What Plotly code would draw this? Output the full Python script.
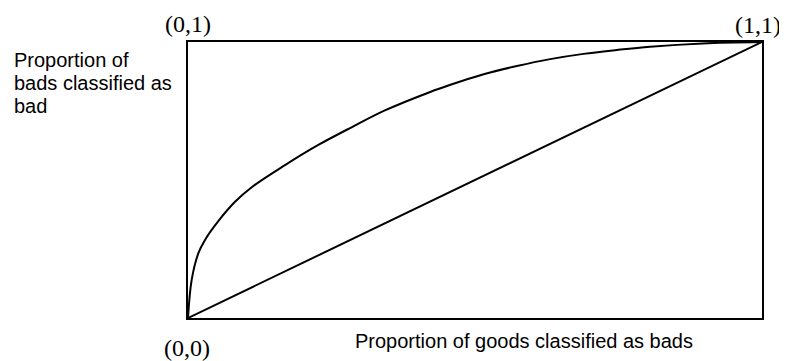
import plotly.graph_objects as go

# ROC-style curve (fraction of goods vs fraction of bads)
curve_x = [0.0, 0.0064, 0.0179, 0.0296, 0.0528, 0.0819, 0.111, 0.169, 0.227,
           0.285, 0.343, 0.422, 0.456, 0.515, 0.573, 0.631, 0.689, 0.747,
           0.805, 0.897, 1.0]
curve_y = [0.0, 0.138, 0.234, 0.283, 0.351, 0.421, 0.474, 0.554, 0.627,
           0.691, 0.752, 0.819, 0.844, 0.883, 0.913, 0.938, 0.957, 0.971,
           0.983, 0.995, 1.0]

# random-guess diagonal
diag_x = [0.0, 1.0]
diag_y = [0.0, 1.0]

corner_labels = ["(0,1)", "(1,1)", "(0,0)"]
y_label_lines = ["Proportion of", "bads classified as", "bad"]
x_label = "Proportion of goods classified as bads"

SANS = "Liberation Sans, Arial, sans-serif"
SERIF = "Liberation Serif, Times New Roman, serif"

# the page body has an 8px margin, so the figure is drawn 8px smaller and
# every screen position below is taken relative to that offset
OFF = 8
W, H = 787 - OFF, 361 - OFF
L, R, T, B = 188, 762, 42, 318  # plot box in window pixels

fig = go.Figure()
fig.add_trace(go.Scatter(x=curve_x, y=curve_y, mode="lines",
                         line=dict(color="black", width=2, shape="spline", smoothing=1),
                         cliponaxis=False, hoverinfo="skip"))
fig.add_trace(go.Scatter(x=diag_x, y=diag_y, mode="lines",
                         line=dict(color="black", width=2),
                         cliponaxis=False, hoverinfo="skip"))

axis = dict(range=[0, 1], showgrid=False, zeroline=False, showticklabels=False,
            ticks="", showline=True, mirror=True, linecolor="black", linewidth=2)


def px(x):
    return (x - L) / (R - L)


def py(y):
    return (B - y) / (B - T)


annotations = [
    dict(text=corner_labels[0], x=px(188), y=py(24), font=dict(family=SERIF, size=24)),
    dict(text=corner_labels[1], x=px(758), y=py(25), font=dict(family=SERIF, size=24)),
    dict(text=corner_labels[2], x=px(187), y=py(348), font=dict(family=SERIF, size=24)),
    dict(text=x_label, x=px(353), y=py(341), xanchor="left", font=dict(family=SANS, size=20)),
]
for i, line in enumerate(y_label_lines):
    annotations.append(dict(text=line, x=px(12), y=py(60 + 22.8 * i), xanchor="left",
                            font=dict(family=SANS, size=20)))
for a in annotations:
    a.update(xref="paper", yref="paper", showarrow=False)
    a.setdefault("xanchor", "center")
    a["yanchor"] = "middle"
    a["font"]["color"] = "black"

fig.update_layout(
    width=W, height=H,
    margin=dict(l=L - OFF, r=W - (R - OFF), t=T - OFF, b=H - (B - OFF), autoexpand=False),
    paper_bgcolor="white", plot_bgcolor="white",
    showlegend=False,
    xaxis=axis, yaxis=axis,
    annotations=annotations,
)

fig.write_html("out.html")
